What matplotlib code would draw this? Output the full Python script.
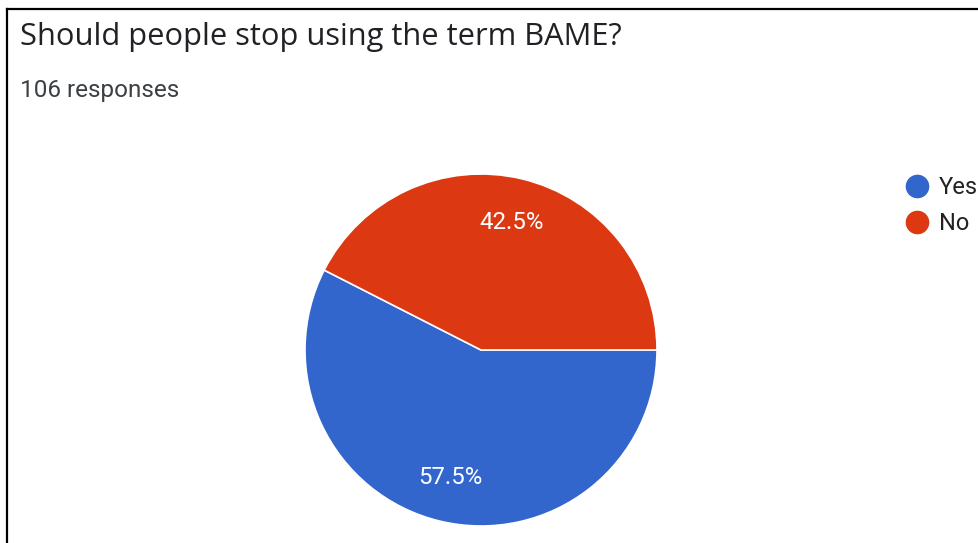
import matplotlib.pyplot as plt
from matplotlib.lines import Line2D

plt.rcParams['font.family'] = ['Roboto', 'DejaVu Sans']

# survey results
labels = ['Yes', 'No']
shares = [57.5, 42.5]
colors = ['#3366CC', '#DC3912']
title = 'Should people stop using the term BAME?'
subtitle = '106 responses'

W, H = 979, 543
fig = plt.figure(figsize=(W / 100, H / 100), dpi=100)

# card border (left and top edges)
fig.add_artist(Line2D([7 / W, 7 / W], [0, 1 - 9 / H], color='black', lw=1.6))
fig.add_artist(Line2D([7 / W, 1], [1 - 9 / H, 1 - 9 / H], color='black', lw=1.6))

fig.text(20 / W, 1 - 37 / H, title, fontsize=22.2, color='#202124',
         family=['Open Sans', 'DejaVu Sans'], va='center', ha='left')
fig.text(20 / W, 1 - 91 / H, subtitle, fontsize=17.5, color='#3c4043',
         va='center', ha='left')

# pie area: centre (481, 350) px, radius ~176 px
r = 176
ax = fig.add_axes([(481 - r) / W, (H - 350 - r) / H, 2 * r / W, 2 * r / H])
wedges, texts, autotexts = ax.pie(
    shares, colors=colors, startangle=0, counterclock=False,
    autopct='%.1f%%', pctdistance=0.745, radius=1,
    wedgeprops=dict(edgecolor='white', linewidth=1.2),
    textprops=dict(color='white', fontsize=17.3))
ax.set_xlim(-1, 1)
ax.set_ylim(-1, 1)
ax.set_aspect('equal')
ax.axis('off')

handles = [Line2D([], [], marker='o', linestyle='none', markersize=16,
                  markerfacecolor=c, markeredgecolor=c) for c in colors]
fig.legend(handles, labels, loc='upper left',
           bbox_to_anchor=(905 / W, 1 - 176 / H), frameon=False,
           fontsize=17, labelcolor='#222222', handletextpad=0.45,
           labelspacing=0.55, borderaxespad=0, borderpad=0, handlelength=1.0)

fig.savefig('out.png', dpi=100, facecolor='white')
